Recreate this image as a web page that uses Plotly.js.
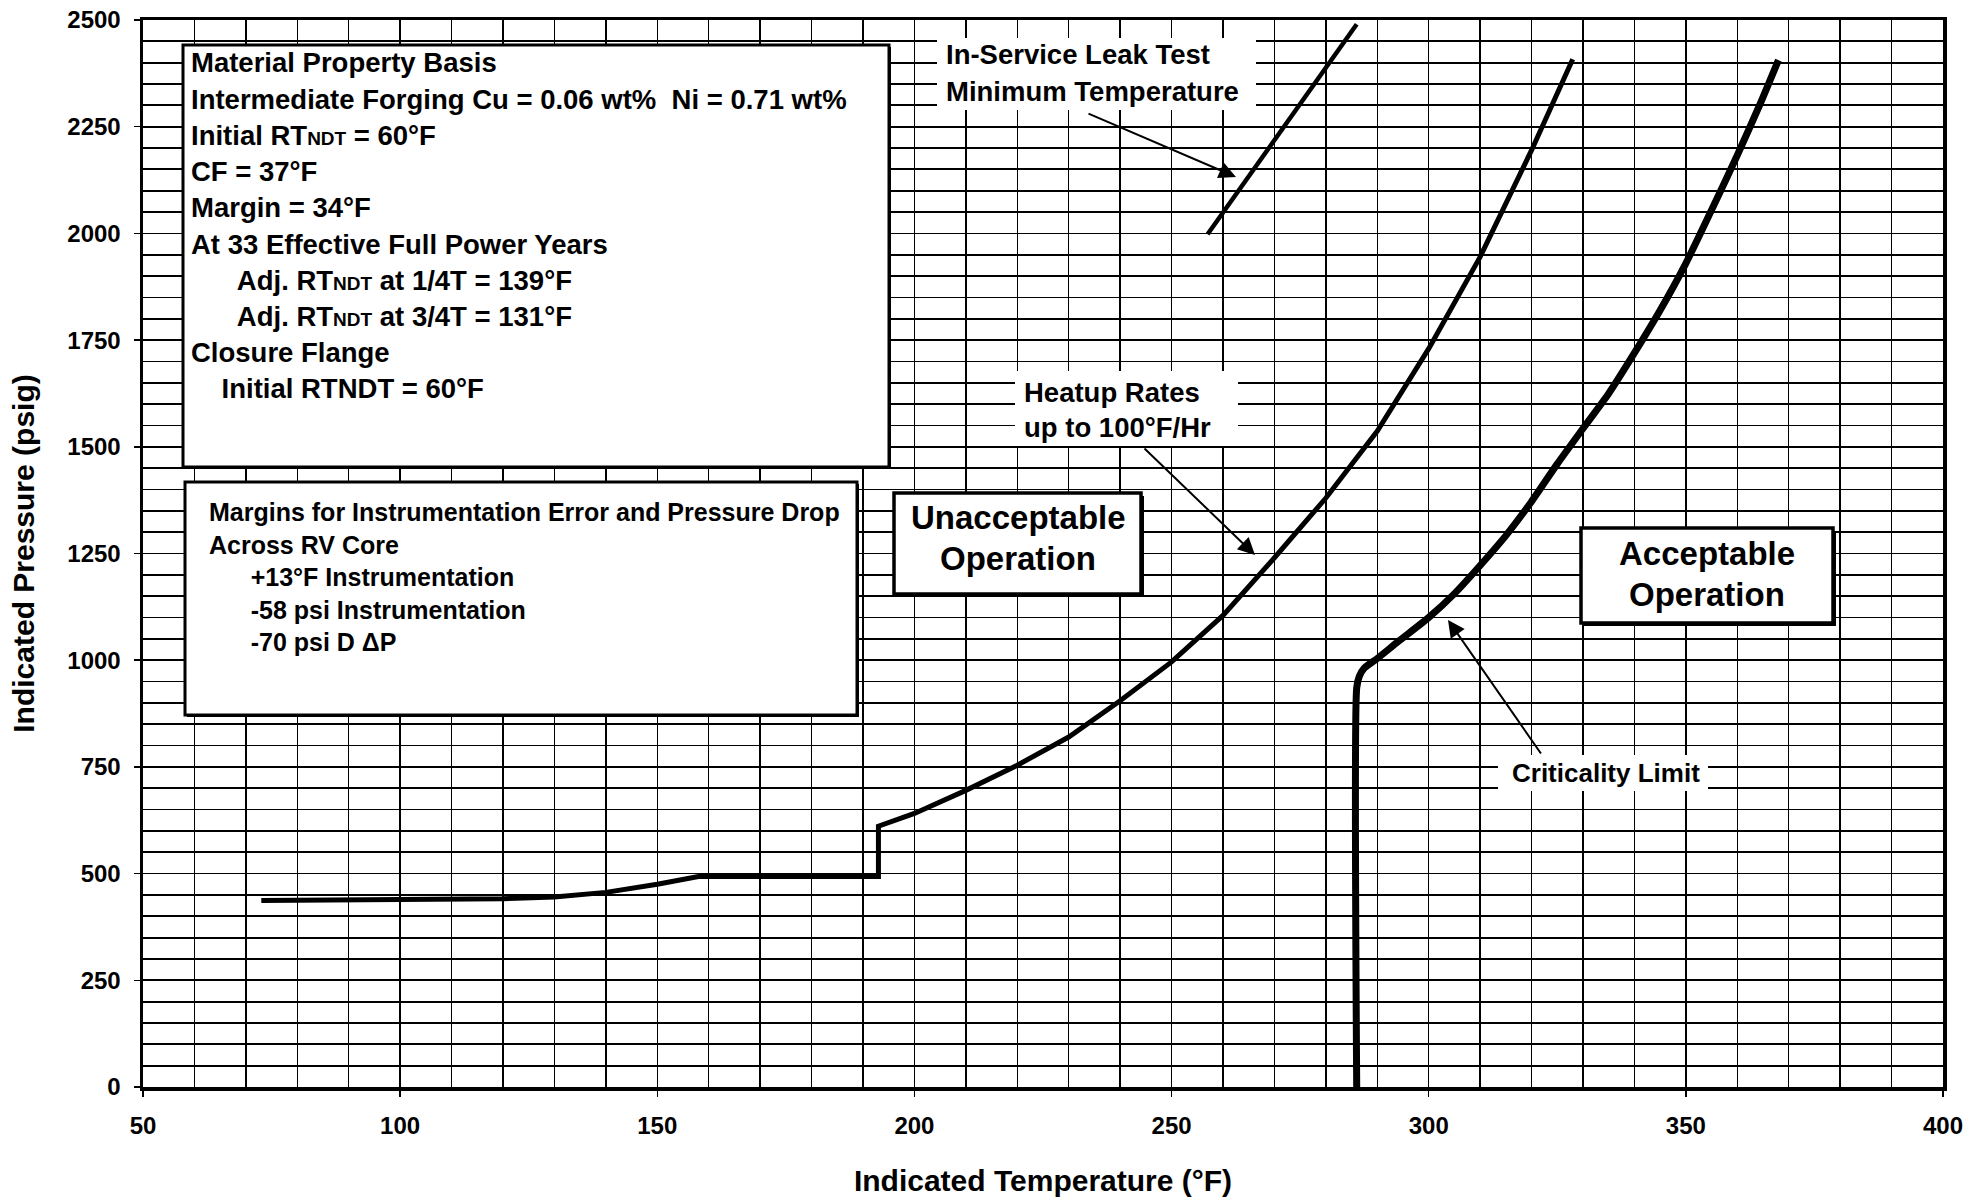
<!DOCTYPE html>
<html>
<head>
<meta charset="utf-8">
<script src="https://cdn.plot.ly/plotly-3.0.1.min.js"></script>
<style>html,body{margin:0;padding:0;background:#fff;}#chart{width:1987px;height:1197px;}</style>
</head>
<body>
<div id="chart"></div>
<script>
// ---- data ----
const heatupT = [73, 90, 110, 120, 130, 140, 150, 158, 193, 193, 200, 210, 220, 230, 240, 250, 260, 270, 280, 290, 300, 310, 320, 324, 328];
const heatupP = [437, 438, 440, 441, 445, 456, 475, 493, 493, 611, 641, 695, 754, 820, 905, 996, 1105, 1240, 1380, 1537, 1730, 1945, 2195, 2300, 2408];
const critT = [286, 286, 286.5, 287.5, 290, 294, 300, 305, 310, 315, 320, 325, 330, 335, 340, 345, 350, 355, 360, 364.5, 368];
const critP = [0, 935, 962, 982, 1004, 1043, 1100, 1156, 1222, 1292, 1372, 1460, 1543, 1625, 1720, 1820, 1930, 2055, 2183, 2305, 2406];
const leakT = [257, 286];
const leakP = [1998, 2490];

const box1Lines = [
  "Material Property Basis",
  "Intermediate Forging Cu = 0.06 wt%  Ni = 0.71 wt%",
  "Initial RT<span style='font-size:19px'>NDT</span> = 60°F",
  "CF = 37°F",
  "Margin = 34°F",
  "At 33 Effective Full Power Years",
  "   Adj. RT<span style='font-size:19px'>NDT</span> at 1/4T = 139°F",
  "   Adj. RT<span style='font-size:19px'>NDT</span> at 3/4T = 131°F",
  "Closure Flange",
  "  Initial RTNDT = 60°F"
];
const box2Lines = [
  "Margins for Instrumentation Error and Pressure Drop",
  "Across RV Core",
  "   +13°F Instrumentation",
  "   -58 psi Instrumentation",
  "   -70 psi D ΔP"
];
const xTitle = "Indicated Temperature (°F)";
const yTitle = "Indicated Pressure (psig)";

// ---- layout helpers (pixel -> paper) ----
const W = 1987, H = 1197, ML = 143, MR = 44, MT = 20, MB = 110;
const PW = W - ML - MR, PH = H - MT - MB;
const px = x => (x - ML) / PW;
const py = y => (H - MB - y) / PH;
const FONT = "Liberation Sans, Arial, sans-serif";

const shapes = [];
const annotations = [];
function box(x0, y0, x1, y1, lw, sh) {
  if (sh > 0) shapes.push({type: 'rect', xref: 'paper', yref: 'paper', layer: 'above',
    x0: px(x0 + sh), x1: px(x1 + sh), y0: py(y1 + sh), y1: py(y0 + sh),
    fillcolor: '#000', line: {width: 0}});
  shapes.push({type: 'rect', xref: 'paper', yref: 'paper', layer: 'above',
    x0: px(x0), x1: px(x1), y0: py(y1), y1: py(y0),
    fillcolor: '#fff', line: {color: '#000', width: lw}});
}
function bg(x0, y0, x1, y1) {
  shapes.push({type: 'rect', xref: 'paper', yref: 'paper', layer: 'above',
    x0: px(x0), x1: px(x1), y0: py(y1), y1: py(y0), fillcolor: '#fff', line: {width: 0}});
}
function label(x, y, text, size, xanchor) {
  annotations.push({xref: 'paper', yref: 'paper', x: px(x), y: py(y), text: text,
    showarrow: false, xanchor: xanchor || 'left', yanchor: 'middle', align: 'left',
    font: {family: FONT, size: size, color: '#000', weight: 'bold'}});
}
function arrow(tipX, tipY, tailX, tailY) {
  annotations.push({xref: 'paper', yref: 'paper', x: px(tipX), y: py(tipY),
    axref: 'pixel', ayref: 'pixel', ax: tailX - tipX, ay: tailY - tipY,
    text: '', showarrow: true, arrowhead: 2, arrowsize: 1.7, arrowwidth: 2,
    arrowcolor: '#000', standoff: 0});
}

// boxes
box(183, 45, 889, 467, 3, 2);
box(185, 482, 857, 715, 3, 2);
box(894, 493, 1141, 594, 3.5, 3);
box(1581, 528, 1833, 623, 3.5, 3);
// white backgrounds behind free labels
bg(937, 38, 1256, 110);
bg(1015, 371, 1238, 446);
bg(1498, 755, 1708, 791);

box1Lines.forEach((t, i) => label(189, 63 + i * 36.2, t.replace(/^ +/, s => '\u00a0'.repeat(s.length * 2)), 27.5));
box2Lines.forEach((t, i) => label(207, 512 + i * 32.5, t.replace(/^ +/, s => '\u00a0'.repeat(s.length * 2)), 25));

label(1018, 517, "Unacceptable", 33, 'center');
label(1018, 558, "Operation", 33, 'center');
label(1707, 554, "Acceptable", 33, 'center');
label(1707, 594, "Operation", 33, 'center');

label(944, 55, "In-Service Leak Test", 27.5);
label(944, 91, "Minimum Temperature", 27.5);
label(1022, 392, "Heatup Rates", 27.5);
label(1022, 428, "up to 100°F/Hr", 27.5);
label(1510, 773, "Criticality Limit", 26);

arrow(1236, 177, 1087, 113);
arrow(1255, 555, 1143, 447);
arrow(1448, 620, 1542, 755);

const traces = [
  {x: heatupT, y: heatupP, type: 'scatter', mode: 'lines', name: 'Heatup',
   line: {color: '#000', width: 5, shape: 'linear'}},
  {x: critT, y: critP, type: 'scatter', mode: 'lines', name: 'Criticality Limit',
   line: {color: '#000', width: 7, shape: 'spline', smoothing: 0.6}},
  {x: leakT, y: leakP, type: 'scatter', mode: 'lines', name: 'Leak Test',
   line: {color: '#000', width: 4.5}}
];

const tickFont = {family: FONT, size: 24, color: '#000', weight: 'bold'};
const titleFont = {family: FONT, size: 30, color: '#000', weight: 'bold'};
const layout = {
  width: W, height: H,
  margin: {l: ML, r: MR, t: MT, b: MB, pad: 0},
  paper_bgcolor: '#fff', plot_bgcolor: '#fff',
  showlegend: false,
  xaxis: {
    range: [50, 400], tick0: 50, dtick: 50, fixedrange: true,
    showgrid: true, gridcolor: '#000', gridwidth: 1.3,
    minor: {dtick: 10, showgrid: true, gridcolor: '#000', gridwidth: 1.3, ticks: ''},
    showline: true, linecolor: '#000', linewidth: 3.5, mirror: true, zeroline: false,
    ticks: 'outside', ticklen: 6, tickwidth: 1.5, tickcolor: '#000',
    ticklabelstandoff: 9,
    tickfont: tickFont,
    title: {text: xTitle, font: titleFont, standoff: 33}
  },
  yaxis: {
    range: [0, 2500], tick0: 0, dtick: 250, fixedrange: true,
    showgrid: true, gridcolor: '#000', gridwidth: 1.8,
    minor: {dtick: 50, showgrid: true, gridcolor: '#000', gridwidth: 1.8, ticks: ''},
    showline: true, linecolor: '#000', linewidth: 3.5, mirror: true, zeroline: false,
    ticks: 'outside', ticklen: 6, tickwidth: 1.5, tickcolor: '#000',
    ticklabelstandoff: 8,
    tickfont: tickFont,
    title: {text: yTitle, font: titleFont, standoff: 25}
  },
  shapes: shapes,
  annotations: annotations
};

Plotly.newPlot('chart', traces, layout, {displayModeBar: false, staticPlot: true});
</script>
</body>
</html>
